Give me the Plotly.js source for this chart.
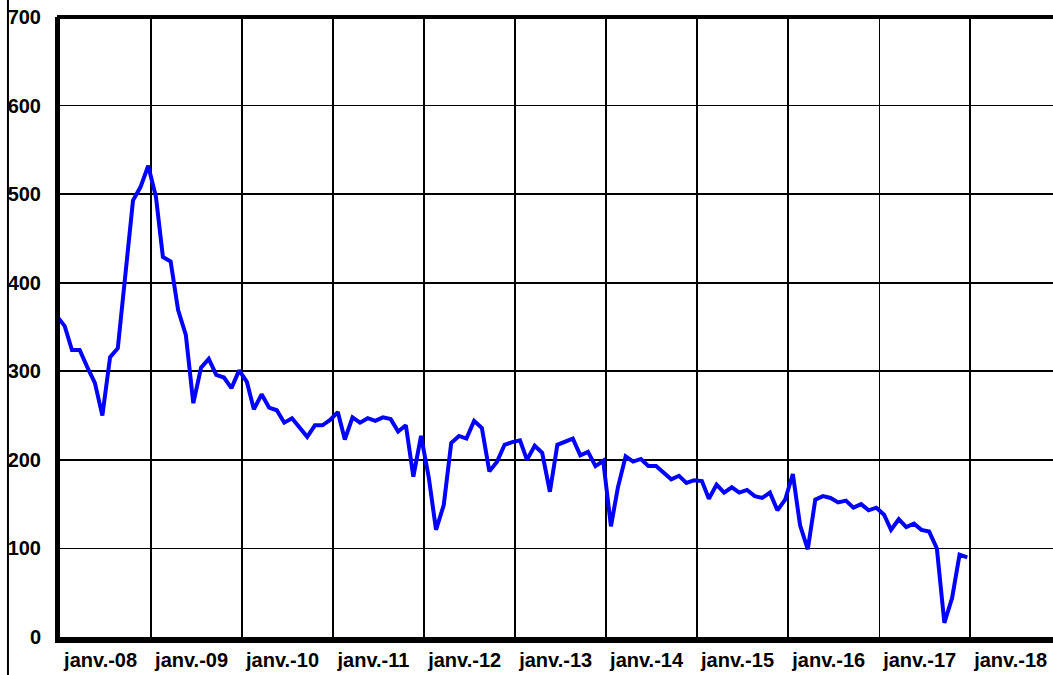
<!DOCTYPE html>
<html>
<head>
<meta charset="utf-8">
<script src="https://cdn.plot.ly/plotly-3.0.1.min.js"></script>
<style>html,body{margin:0;padding:0;background:#fff;}#chart{width:1053px;height:675px;}</style>
</head>
<body>
<div id="chart"></div>
<script>
// Monthly categories: janv. 2008 .. janv. 2018
const months = [];
for (let y = 2008; y <= 2018; y++) {
  for (let m = 1; m <= 12; m++) {
    if (y === 2018 && m > 1) break;
    months.push(y + '-' + String(m).padStart(2, '0') + '-01');
  }
}
const values = [
  362, 351, 324, 324, 305, 287, 250, 316, 326, 405, 493, 508,
  532, 497, 429, 424, 369, 341, 264, 304, 314, 296, 293, 281,
  301, 288, 257, 274, 259, 256, 242, 247, 236, 226, 239, 239,
  245, 254, 223, 248, 242, 247, 244, 248, 246, 232, 239, 181,
  227, 180, 121, 149, 219, 227, 224, 244, 236, 187, 198, 217,
  220, 222, 200, 216, 208, 164, 217, 221, 224, 205, 209, 193,
  199, 125, 169, 204, 198, 201, 193, 193, 186, 178, 182, 174,
  177, 176, 156, 172, 163, 169, 163, 166, 159, 157, 163, 143,
  155, 184, 126, 99, 155, 159, 157, 152, 154, 146, 150, 143,
  146, 138, 121, 133, 124, 128, 121, 119, 100, 16, 44, 93,
  90
];
const tickLabels = ['janv.-08','janv.-09','janv.-10','janv.-11','janv.-12','janv.-13','janv.-14','janv.-15','janv.-16','janv.-17','janv.-18'];
const yTicks = [0, 100, 200, 300, 400, 500, 600, 700];

// display helpers (positions derived from the categories)
const DAY = 86400000;
const shiftDate = (s, days) => new Date(Date.parse(s + 'T00:00:00Z') + days * DAY).toISOString().slice(0, 10);
const xPoints = months.map(d => shiftDate(d, -12));
const labelPositions = tickLabels.map((t, k) => shiftDate((2008 + k) + '-07-02', -20));

const font = {family: 'Liberation Sans, Arial, sans-serif', size: 20, color: '#000', weight: 'bold'};

const trace = {
  x: xPoints,
  y: values,
  type: 'scatter',
  mode: 'lines',
  line: {color: '#0000ff', width: 4},
  hoverinfo: 'skip'
};

const layout = {
  width: 1053,
  height: 675,
  margin: {l: 60, r: 0, t: 17, b: 38, pad: 0},
  paper_bgcolor: '#fff',
  plot_bgcolor: '#fff',
  showlegend: false,
  xaxis: {
    type: 'date',
    range: ['2008-01-01', '2018-11-29'],
    tickmode: 'array',
    tickvals: labelPositions,
    ticktext: tickLabels,
    ticks: '',
    showgrid: false,
    zeroline: false,
    showline: true,
    linecolor: '#000',
    linewidth: 6,
    tickfont: font,
    minor: {
      tick0: '2008-01-01',
      dtick: 'M12',
      showgrid: true,
      gridcolor: '#000',
      gridwidth: 1.6,
      ticks: ''
    }
  },
  yaxis: {
    range: [0, 700],
    tickvals: yTicks,
    ticks: '',
    ticklabelstandoff: 10,
    showgrid: true,
    gridcolor: '#000',
    gridwidth: 1.6,
    zeroline: false,
    showline: true,
    linecolor: '#000',
    linewidth: 5,
    tickfont: font
  },
  shapes: [
    {type: 'line', xref: 'paper', yref: 'paper', x0: -0.003, x1: 1.01, y0: 1, y1: 1,
     line: {color: '#000', width: 4}},
    {type: 'line', xref: 'paper', yref: 'paper', x0: -0.0524, x1: -0.0524, y0: -0.1, y1: 1.1,
     line: {color: '#000', width: 2}}
  ]
};

Plotly.newPlot('chart', [trace], layout, {staticPlot: true, displayModeBar: false});
</script>
</body>
</html>
